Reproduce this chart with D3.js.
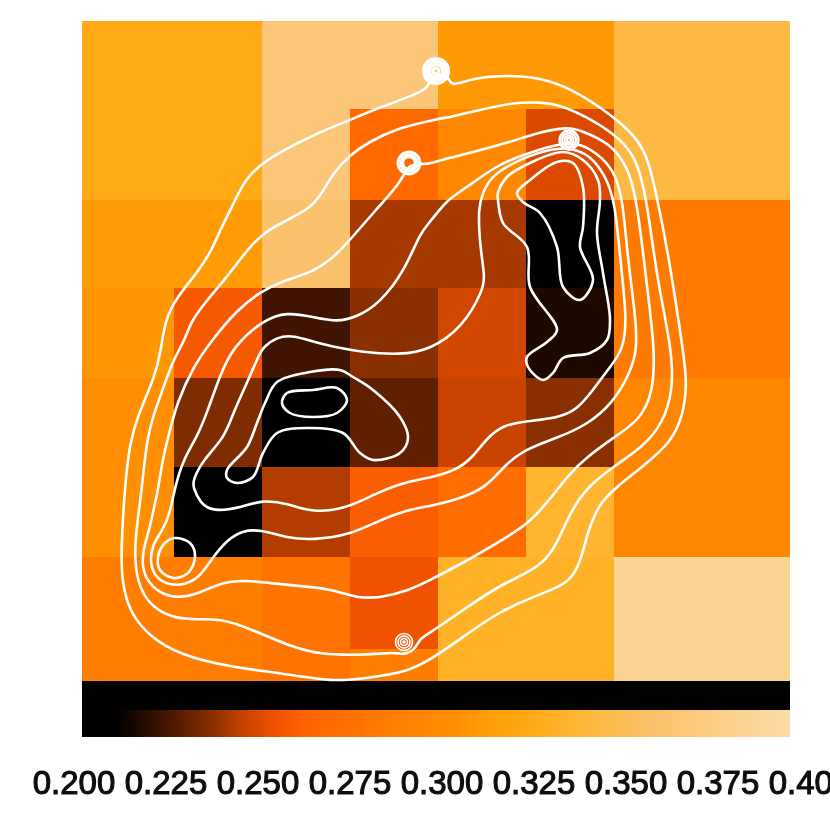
<!DOCTYPE html>
<html><head><meta charset="utf-8">
<script src="https://cdn.jsdelivr.net/npm/d3@7/dist/d3.min.js"></script>
<style>html,body{margin:0;padding:0;background:#fff;overflow:hidden}svg{display:block}</style>
</head><body>
<script>
// Colour scale
const colorValues = [0.200,0.210,0.223,0.237,0.246,0.253,0.262,0.284,0.304,0.320,0.338,0.360,0.400];
const colorStops  = ["#000000","#000000","#401400","#8a3000","#c84400","#ea4f00","#ff6200","#ff7a00","#ff8e00","#ffa408","#ffb530","#fbc069","#fbdca6"];
const tickValues = [0.200,0.225,0.250,0.275,0.300,0.325,0.350,0.375,0.400];

// Heat-map cells
const xEdges = [0,92,180,268,356,444,532,620,708];
const yEdges = [660,572,481,393,303,214,124,32,0];
const row0 = [0.326,0.326,0.369,0.369,0.312,0.312,0.346,0.346];
const row1 = [0.326,0.326,0.369,0.268,0.298,0.250,0.346,0.346];
const row2 = [0.314,0.314,0.363,0.241,0.241,0.206,0.284,0.284];
const row3 = [0.310,0.258,0.223,0.237,0.248,0.216,0.284,0.284];
const row4 = [0.304,0.235,0.200,0.229,0.246,0.237,0.296,0.296];
const row5 = [0.304,0.200,0.243,0.260,0.272,0.338,0.296,0.296];
const row6 = [0.288,0.288,0.278,0.255,0.334,0.334,0.388,0.388];
const row7 = [0.288,0.288,0.278,0.288,0.334,0.334,0.388,0.388];
const rows = [row0,row1,row2,row3,row4,row5,row6,row7];

// Contours
const level1 = [[346,596],[341,589],[298,574],[268,561],[231,546],[198,529],[175,514],[161,498],[150,474],[138,451],[130,431],[115,408],[95,384],[83,361],[79,331],[73,304],[55,264],[48,238],[43,198],[39,131],[40,98],[48,68],[68,44],[98,26],[148,14],[198,8],[251,-1],[285,3],[325,9],[348,21],[381,44],[415,68],[448,83],[478,94],[491,104],[500,124],[506,151],[518,178],[531,191],[565,218],[588,238],[601,264],[605,298],[602,324],[588,418],[575,484],[565,528],[548,551],[518,574],[491,591],[461,603],[425,606],[391,603],[368,594],[368,604],[355,608],[346,596]];
const level2 = [[356,562],[315,553],[285,538],[268,526],[251,508],[238,484],[225,471],[205,461],[181,448],[165,431],[145,404],[125,381],[108,358],[103,341],[91,321],[78,284],[65,248],[60,191],[53,144],[53,111],[60,88],[71,74],[88,64],[111,61],[138,63],[171,51],[205,36],[238,26],[285,26],[313,29],[321,26],[333,31],[338,43],[348,48],[381,71],[415,94],[445,108],[465,121],[478,144],[488,168],[505,194],[531,214],[561,234],[581,258],[591,291],[590,331],[575,401],[565,481],[554,526],[531,548],[505,564],[478,576],[458,579],[428,578],[398,571],[368,564]];
const level3 = [[326,518],[321,501],[291,468],[268,441],[251,423],[231,409],[198,399],[178,389],[155,371],[130,341],[111,314],[95,278],[88,251],[81,224],[76,191],[73,178],[68,154],[61,131],[60,114],[66,98],[81,86],[98,83],[118,88],[138,98],[161,101],[185,98],[231,94],[251,91],[275,83],[298,83],[328,91],[348,101],[381,118],[415,138],[445,156],[465,178],[488,208],[505,224],[531,243],[558,261],[571,288],[573,331],[565,394],[555,481],[546,514],[528,538],[498,551],[485,554],[458,549],[425,538],[388,528],[358,521],[345,516]];
const level4 = [[181,361],[151,334],[138,306],[125,268],[115,244],[101,221],[93,194],[88,168],[81,151],[70,136],[68,118],[73,104],[86,96],[103,96],[118,104],[131,124],[145,141],[161,151],[180,151],[205,143],[231,141],[268,146],[298,161],[325,171],[348,175],[375,181],[405,194],[421,214],[441,231],[475,243],[505,256],[531,278],[548,308],[555,331],[554,361],[545,428],[541,481],[532,511],[515,528],[495,539],[471,536],[441,526],[415,516],[381,491],[365,481],[348,459],[338,448],[323,411],[298,378],[275,364],[255,359],[231,364],[205,369]];
const level5 = [[258,333],[235,338],[211,346],[195,344],[181,334],[176,324],[165,298],[151,268],[143,244],[121,221],[111,201],[111,194],[118,178],[131,169],[161,174],[180,181],[205,178],[231,168],[265,173],[291,186],[318,198],[348,203],[375,211],[391,224],[405,243],[421,256],[445,260],[475,263],[495,271],[511,291],[528,314],[541,331],[545,361],[539,414],[533,481],[523,506],[508,526],[489,533],[471,533],[435,521],[408,504],[401,488],[396,474],[398,434],[403,404],[401,391],[381,354],[348,331],[318,326],[278,329]];
const level6 = [[416,488],[416,481],[421,458],[445,434],[448,394],[475,351],[465,339],[445,324],[446,314],[461,301],[471,308],[481,323],[508,328],[525,341],[528,361],[521,408],[515,448],[518,481],[516,501],[501,521],[481,529],[448,518],[425,504]];
const level7 = [[435,488],[448,501],[475,519],[491,518],[501,494],[501,454],[498,434],[511,401],[498,381],[481,394],[475,434],[458,468],[441,479]];
const level8 = [[258,311],[228,309],[195,299],[183,278],[175,258],[165,234],[145,211],[145,203],[155,198],[171,204],[181,228],[195,248],[225,253],[261,248],[278,228],[291,221],[318,228],[326,243],[318,264],[291,291],[271,304]];
const level9 = [[205,288],[231,291],[255,293],[265,281],[255,268],[231,264],[208,268],[200,278]];
const level10 = [[93,143],[108,138],[113,124],[106,108],[91,103],[78,111],[76,124],[83,138]];
const smoothContours = [level1,level2,level3,level4,level5];
const tightContours = [level6,level7,level8,level9,level10];

// Tight concentric rings at the four peaks: [x, y, radii...]
const peak1 = [354,610,[12.5,9.5,6.5,3]];
const peak2 = [327,518,[11,8,6.3]];
const peak3 = [487,541,[9.5,7,4.5,2]];
const peak4 = [322,39,[8.5,6,3.5,1]];
const peaks = [peak1,peak2,peak3,peak4];
const peakWidths = [3.2,3,2.4,1.6];

const W=830,H=822;
const x=d3.scaleLinear().domain([0,708]).range([82,790]);
const y=d3.scaleLinear().domain([0,660]).range([681,21]);
const color=d3.scaleLinear().domain(colorValues).range(colorStops).interpolate(d3.interpolateRgb);
const legendX=d3.scaleLinear().domain([0.2,0.4]).range([82,790]);
const labelX=d3.scaleLinear().domain([0.2,0.4]).range([74,810]);
const legendTop=681, legendMid=710, legendBottom=737;

const svg=d3.select("body").append("svg").attr("width",W).attr("height",H);
const defs=svg.append("defs");
defs.append("filter").attr("id","soft").attr("x","-5%").attr("y","-5%").attr("width","110%").attr("height","110%")
  .append("feGaussianBlur").attr("stdDeviation",0.5);
const grad=defs.append("linearGradient").attr("id","legendGrad");
grad.selectAll("stop").data(colorValues).join("stop")
  .attr("offset",d=>(d-0.2)/0.2).attr("stop-color",d=>color(d));

// cells
const cells=[];
rows.forEach((r,i)=>r.forEach((v,j)=>cells.push({i,j,v})));
svg.append("g").attr("shape-rendering","crispEdges").selectAll("rect").data(cells).join("rect")
  .attr("x",d=>x(xEdges[d.j])).attr("width",d=>x(xEdges[d.j+1])-x(xEdges[d.j]))
  .attr("y",d=>y(yEdges[d.i])).attr("height",d=>y(yEdges[d.i+1])-y(yEdges[d.i]))
  .attr("fill",d=>color(d.v));

// legend
const legend=svg.append("g").attr("shape-rendering","crispEdges");
legend.append("rect").attr("x",legendX(0.2)).attr("width",legendX(0.4)-legendX(0.2))
  .attr("y",legendTop).attr("height",legendMid-legendTop).attr("fill","#000");
legend.append("rect").attr("x",legendX(0.2)).attr("width",legendX(0.4)-legendX(0.2))
  .attr("y",legendMid).attr("height",legendBottom-legendMid).attr("fill","url(#legendGrad)");

// contours
const smoothLine=d3.line().x(d=>x(d[0])).y(d=>y(d[1])).curve(d3.curveBasisClosed);
const tightLine=d3.line().x(d=>x(d[0])).y(d=>y(d[1])).curve(d3.curveCatmullRomClosed.alpha(0.5));
const cg=svg.append("g").attr("filter","url(#soft)").attr("fill","none").attr("stroke","#fff");
cg.append("g").selectAll("path").data(smoothContours).join("path").attr("d",smoothLine).attr("stroke-width",2.6);
cg.append("g").selectAll("path").data(tightContours).join("path").attr("d",tightLine).attr("stroke-width",2.6);
peaks.forEach((p,k)=>{
  cg.append("g").selectAll("circle").data(p[2]).join("circle")
    .attr("cx",x(p[0])).attr("cy",y(p[1])).attr("r",d=>d).attr("stroke-width",peakWidths[k]);
});

// tick labels
svg.append("g").attr("filter","url(#soft)").selectAll("text").data(tickValues).join("text")
  .attr("x",d=>labelX(d)).attr("y",794).attr("text-anchor","middle")
  .attr("font-family","'Liberation Sans',Arial,sans-serif").attr("font-size",33)
  .attr("fill","#111").attr("stroke","#111").attr("stroke-width",1.1)
  .text(d=>d.toFixed(3));
</script>
</body></html>
